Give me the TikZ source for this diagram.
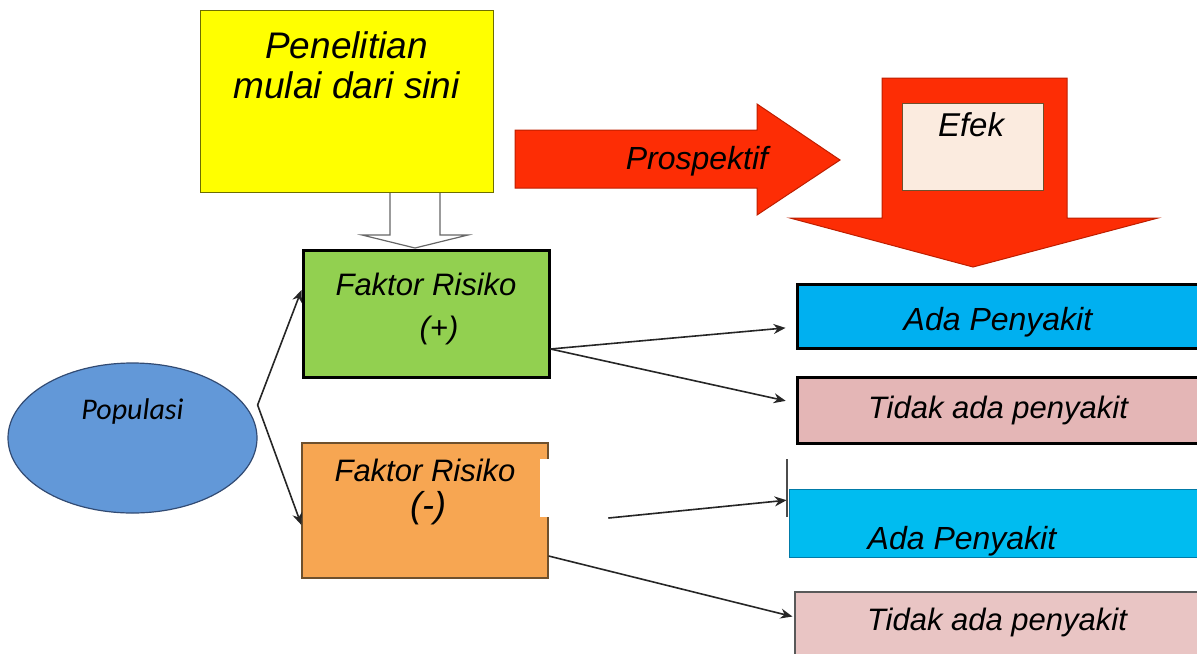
\documentclass[tikz,border=0pt]{standalone}
\usepackage{fontspec}
\setmainfont{Liberation Sans}
\newfontfamily\calibri{Carlito}
\usepackage{xcolor}
\definecolor{kuning}{RGB}{255,255,0}
\definecolor{zaitun}{RGB}{110,110,0}
\definecolor{merah}{RGB}{253,45,5}
\definecolor{merahtua}{RGB}{190,30,0}
\definecolor{efekisi}{RGB}{251,235,223}
\definecolor{biru}{RGB}{98,152,216}
\definecolor{birutua}{RGB}{50,75,115}
\definecolor{hijau}{RGB}{146,208,80}
\definecolor{oranye}{RGB}{247,166,82}
\definecolor{coklat}{RGB}{110,80,45}
\definecolor{sian}{RGB}{0,176,240}
\definecolor{sianmuda}{RGB}{0,188,240}
\definecolor{merahmuda}{RGB}{228,182,182}
\definecolor{merahmudamuda}{RGB}{233,197,196}
\usepackage{tikz}
\usetikzlibrary{shapes.geometric, arrows.meta}
\tikzstyle{box} = [rectangle, draw, inner sep=0pt]
\tikzstyle{hasil} = [box, minimum width=205pt, minimum height=32pt]
\tikzstyle{lbl} = [inner sep=0pt, align=center, anchor=north, font=\itshape\fontsize{15.5}{18}\selectfont]
\tikzstyle{blockarrow} = [fill=merah, draw=merahtua, line width=0.5pt]
\tikzstyle{arrow} = [line width=0.8pt, draw=black!85, ->, >={Stealth[length=6pt, width=5pt]}]

\begin{document}
\begin{tikzpicture}[x=0.5pt, y=-0.5pt]
    \useasboundingbox (0,0) rectangle (1197,653);

    % start of the study
    \draw[draw=gray!80!black, fill=white, line width=0.6pt] (390,192) -- (390,235) -- (362,235) -- (415,248) -- (468,235) -- (440,235) -- (440,192);
    \node[box, draw=zaitun, fill=kuning, minimum width=146.5pt, minimum height=91pt,
        label={[lbl, font=\itshape\fontsize{18.5}{20}\selectfont, yshift=-11pt]north:{Penelitian\\mulai dari sini}}] (mulai) at (346.5,101) {};

    % prospective direction
    \filldraw[blockarrow] (515,130) -- (757,130) -- (757,104) -- (840,160) -- (757,215) -- (757,188) -- (515,188) -- cycle;
    \node[anchor=base, inner sep=0pt, font=\itshape\fontsize{16}{18}\selectfont] (prosp) at (697,169) {Prospektif};
    \filldraw[blockarrow] (882,78) -- (1067,78) -- (1067,218) -- (1158,218) -- (973,267) -- (790,218) -- (882,218) -- cycle;
    \node[box, draw=coklat, fill=efekisi, minimum width=70.5pt, minimum height=43.5pt,
        label={[lbl, font=\itshape\fontsize{16.5}{18}\selectfont, xshift=-0.75pt, yshift=-5pt]north:Efek}] (efek) at (972.5,146.5) {};

    % population and risk factors
    \node[ellipse, draw=birutua, fill=biru, line width=0.6pt, minimum width=124.5pt, minimum height=75pt, inner sep=0pt,
        label={[lbl, font=\calibri\itshape\fontsize{15}{18}\selectfont, yshift=-18pt]north:Populasi}] (pop) at (132.5,438) {};
    \node[box, line width=1.5pt, fill=hijau, minimum width=123pt, minimum height=63.5pt,
        label={[lbl, font=\itshape\fontsize{15.5}{21.5}\selectfont, yshift=-12pt]north:{Faktor Risiko\\\hspace*{13pt}(+)}}] (fkplus) at (426,313.5) {};
    \node[box, draw=coklat, line width=0.6pt, fill=oranye, minimum width=123pt, minimum height=67.5pt,
        label={[lbl, yshift=-8pt]north:{Faktor Risiko\\\hspace*{3pt}{\fontsize{18}{18}\selectfont(-)}}}] (fkminus) at (425,510.5) {};

    % effects
    \node[hasil, line width=1.5pt, fill=sian,
        label={[lbl, font=\itshape\fontsize{16}{18}\selectfont, xshift=-2pt, yshift=-12pt]north:Ada Penyakit}] (ada1) at (1002,316) {};
    \node[hasil, line width=1.5pt, fill=merahmuda, minimum height=33pt,
        label={[lbl, xshift=-2pt, yshift=-10pt]north:Tidak ada penyakit}] (tidak1) at (1002,410) {};
    \node[hasil, draw=sian!70!black, line width=0.4pt, fill=sianmuda, minimum width=209pt, minimum height=34pt,
        label={[lbl, font=\itshape\fontsize{16}{18}\selectfont, xshift=-18pt, yshift=-18.5pt]north:Ada Penyakit}] (ada2) at (998,523) {};
    \node[hasil, draw=black!65, line width=0.6pt, fill=merahmudamuda, minimum width=206pt, minimum height=35pt,
        label={[lbl, xshift=-2pt, yshift=-8pt]north:Tidak ada penyakit}] (tidak2) at (1001,627) {};

    \draw[arrow] ([yshift=16.5pt]pop.east) -- ([yshift=11.75pt]fkplus.west);
    \draw[arrow] ([yshift=16.5pt]pop.east) -- ([yshift=-7.25pt]fkminus.west);
    \draw[arrow, shorten >=5pt] ([yshift=-17.75pt]fkplus.east) -- ([yshift=-5.5pt]ada1.west);
    \draw[arrow, shorten >=5pt] ([yshift=-17.75pt]fkplus.east) -- ([yshift=3.5pt]tidak1.west);
    \draw[arrow, shorten <=30pt, shorten >=1pt] ([yshift=-6.75pt]fkminus.east) -- ([yshift=11.5pt]ada2.west);
    \draw[arrow, shorten >=1pt] ([yshift=-22.75pt]fkminus.east) -- ([yshift=5pt]tidak2.west);

    % white patch and stray rule
    \fill[white] (540,459) rectangle (607,517);
    \draw[line width=0.6pt, black!70] (787,459) -- (787,517);
\end{tikzpicture}
\end{document}
